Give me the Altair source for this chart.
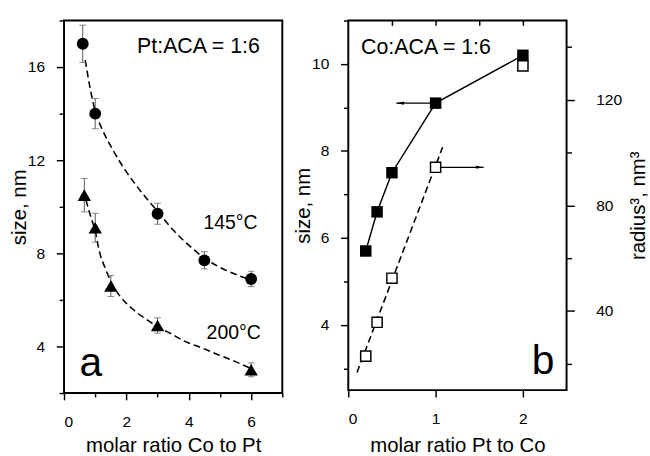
import altair as alt
import pandas as pd

FONT = "Liberation Sans"

# ---------------- Panel a data ----------------
co_pt_145 = [0.6, 1.0, 3.0, 4.5, 6.0]
size_145 = [17.0, 14.0, 9.7, 7.7, 6.9]
err_145 = [0.8, 0.65, 0.45, 0.37, 0.33]

co_pt_200 = [0.65, 1.0, 1.5, 3.0, 6.0]
size_200 = [10.5, 9.1, 6.6, 4.9, 3.0]
err_200 = [0.72, 0.62, 0.45, 0.33, 0.3]

fit145_x = [0.68, 0.85, 1.0, 1.2, 1.5, 2.0, 2.5, 3.0, 3.5, 4.0, 4.5, 5.0, 5.5, 6.0]
fit145_y = [16.3, 15.0, 14.1, 13.4, 12.6, 11.5, 10.6, 9.8, 9.0, 8.35, 7.8, 7.4, 7.1, 6.85]

fit200_x = [0.7, 0.85, 1.0, 1.13, 1.34, 1.5, 1.8, 2.18, 2.6, 3.0, 3.5, 3.84, 4.4, 4.88, 5.5, 6.0]
fit200_y = [10.3, 9.6, 8.95, 8.1, 7.3, 6.8, 6.15, 5.63, 5.2, 4.85, 4.5, 4.24, 3.95, 3.68, 3.35, 3.05]

a_labels = ["145°C", "200°C"]
a_label_x = [5.34, 5.44]
a_label_y = [9.3, 4.58]
a_ratio_text = ["Pt:ACA = 1:6"]
a_ratio_x = [4.31]
a_ratio_y = [16.9]

# ---------------- Panel b data ----------------
pt_co = [0.2, 0.33, 0.5, 1.0, 2.0]
size_co = [5.7, 6.6, 7.5, 9.1, 10.2]
radius3 = [22.9, 35.7, 52.4, 94.4, 132.8]

fit_r3_x = [0.1, 1.08]
fit_r3_y = [16.7, 102.0]

arrow_left_x = [0.55, 1.0]
arrow_left_y = [9.1, 9.1]
arrow_right_x = [1.0, 1.55]
arrow_right_y = [94.4, 94.4]

# ---------------- axes helpers ----------------
def tick_cond(test, major, minor):
    return {"condition": {"test": test, "value": major}, "value": minor}

def xa(field):
    return alt.X(field, type="quantitative", title="molar ratio Co to Pt",
                 scale=alt.Scale(domain=[0, 7], nice=False, zero=False),
                 axis=alt.Axis(values=[0, 1, 2, 3, 4, 5, 6, 7], format="d",
                               labelExpr="datum.value % 2 == 0 ? datum.label : ''",
                               tickSize=tick_cond("datum.value % 2 == 0", 7, 4),
                               labelPadding=14.6, titlePadding=6))

def ya(field):
    return alt.Y(field, type="quantitative", title="size, nm",
                 scale=alt.Scale(domain=[2, 18], nice=False, zero=False),
                 axis=alt.Axis(values=[2, 4, 6, 8, 10, 12, 14, 16, 18], format="d",
                               labelExpr="datum.value % 4 == 0 ? datum.label : ''",
                               tickSize=tick_cond("datum.value % 4 == 0", 8, 5),
                               labelPadding=12, titlePadding=2, titleBaseline="alphabetic"))

def xb_bottom(field):
    return alt.X(field, type="quantitative", title="molar ratio Pt to Co",
                 scale=alt.Scale(domain=[0, 2.5], nice=False, zero=False),
                 axis=alt.Axis(values=[0, 0.5, 1, 1.5, 2, 2.5], format="d",
                               labelExpr="datum.value % 1 == 0 ? datum.label : ''",
                               tickSize=tick_cond("datum.value % 1 == 0", 7, 4),
                               labelPadding=14.6, titlePadding=9))

def xb_top(field):
    return alt.X(field, type="quantitative", title=None,
                 scale=alt.Scale(domain=[0, 2.5], nice=False, zero=False),
                 axis=alt.Axis(orient="top", values=[0.5, 1, 1.5, 2], labels=False,
                               tickSize=5, offset=-5, domain=False))

def yb_left(field):
    return alt.Y(field, type="quantitative", title="size, nm",
                 scale=alt.Scale(domain=[2.5, 11], nice=False, zero=False),
                 axis=alt.Axis(values=[3, 4, 5, 6, 7, 8, 9, 10, 11], format="d",
                               labelExpr="datum.value % 2 == 0 ? datum.label : ''",
                               tickSize=tick_cond("datum.value % 2 == 0", 8, 5),
                               labelPadding=12, titlePadding=2, titleBaseline="alphabetic"))

def yb_right(field):
    return alt.Y(field, type="quantitative", title="radius³, nm³",
                 scale=alt.Scale(domain=[10, 150], nice=False, zero=False),
                 axis=alt.Axis(orient="right", values=[20, 40, 60, 80, 100, 120, 140], format="d",
                               labelExpr="datum.value % 40 == 0 ? datum.label : ''",
                               tickSize=tick_cond("datum.value % 40 == 0", 8, 5),
                               labelPadding=22, titlePadding=7,
                               titleAngle=270, titleBaseline="top"))

# ---------------- Panel a ----------------
df145 = pd.DataFrame({"x": co_pt_145, "y": size_145, "e": err_145})
df145["lo"] = df145["y"] - df145["e"]
df145["hi"] = df145["y"] + df145["e"]
df200 = pd.DataFrame({"x": co_pt_200, "y": size_200, "e": err_200})
df200["lo"] = df200["y"] - df200["e"]
df200["hi"] = df200["y"] + df200["e"]
dfit145 = pd.DataFrame({"x": fit145_x, "y": fit145_y})
dfit200 = pd.DataFrame({"x": fit200_x, "y": fit200_y})
dlab_a = pd.DataFrame({"x": a_label_x, "y": a_label_y, "t": a_labels})
dratio_a = pd.DataFrame({"x": a_ratio_x, "y": a_ratio_y, "t": a_ratio_text})
dletter_a = pd.DataFrame({"x": [0.5], "y": [2.75], "t": ["a"]})

dash = [7, 4]
fit145_line = alt.Chart(dfit145).mark_line(color="black", strokeDash=dash, strokeWidth=1.6,
                                           interpolate="monotone").encode(x=xa("x"), y=ya("y"))
fit200_line = alt.Chart(dfit200).mark_line(color="black", strokeDash=dash, strokeWidth=1.6,
                                           interpolate="monotone").encode(x=xa("x"), y=ya("y"))

def errbars(df):
    base = alt.Chart(df)
    r = base.mark_rule(color="#555555", strokeWidth=1).encode(x=xa("x"), y=ya("lo"), y2="hi")
    c1 = base.mark_tick(color="#555555", orient="horizontal", size=7, thickness=1).encode(x=xa("x"), y=ya("hi"))
    c2 = base.mark_tick(color="#555555", orient="horizontal", size=7, thickness=1).encode(x=xa("x"), y=ya("lo"))
    return [r, c1, c2]

circles = alt.Chart(df145).mark_point(shape="circle", filled=True, color="black", size=150,
                                      opacity=1).encode(x=xa("x"), y=ya("y"))
triangles = alt.Chart(df200).mark_point(shape="triangle-up", filled=True, color="black", size=190,
                                        opacity=1).encode(x=xa("x"), y=ya("y"))
labels_a = alt.Chart(dlab_a).mark_text(font=FONT, fontSize=20, color="black", align="center",
                                       baseline="middle").encode(x=xa("x"), y=ya("y"), text="t:N")
ratio_a = alt.Chart(dratio_a).mark_text(font=FONT, fontSize=22, color="black", align="center",
                                        baseline="middle").encode(x=xa("x"), y=ya("y"), text="t:N")
letter_a = alt.Chart(dletter_a).mark_text(font=FONT, fontSize=42, color="black", align="left",
                                          baseline="alphabetic").encode(x=xa("x"), y=ya("y"), text="t:N")

panel_a = alt.layer(fit145_line, fit200_line, *errbars(df145), *errbars(df200),
                    circles, triangles, labels_a, ratio_a, letter_a).properties(width=225, height=384)

# ---------------- Panel b ----------------
dsz = pd.DataFrame({"x": pt_co, "y": size_co})
dr3 = pd.DataFrame({"x": pt_co, "y": radius3})
dfit_r3 = pd.DataFrame({"x": fit_r3_x, "y": fit_r3_y})
darr_l = pd.DataFrame({"x": arrow_left_x, "y": arrow_left_y})
darr_r = pd.DataFrame({"x": arrow_right_x, "y": arrow_right_y})
dlab_b = pd.DataFrame({"x": [0.89], "y": [10.39], "t": ["Co:ACA = 1:6"]})
dletter_b = pd.DataFrame({"x": [2.23], "y": [2.87], "t": ["b"]})

size_line = alt.Chart(dsz).mark_line(color="black", strokeWidth=1.5).encode(x=xb_bottom("x"), y=yb_left("y"))
arrow_l_line = alt.Chart(darr_l).mark_line(color="black", strokeWidth=1.2).encode(x=xb_bottom("x"), y=yb_left("y"))
arrow_l_head = alt.Chart(darr_l.iloc[[0]]).mark_point(shape="M0,0L2,-0.4L2,0.4Z", filled=True, color="black",
                                                      size=64, opacity=1).encode(x=xb_bottom("x"), y=yb_left("y"))
size_pts = alt.Chart(dsz).mark_point(shape="square", filled=True, color="black", size=140,
                                     opacity=1).encode(x=xb_bottom("x"), y=yb_left("y"))
labels_b = alt.Chart(dlab_b).mark_text(font=FONT, fontSize=22, color="black", align="center",
                                       baseline="middle").encode(x=xb_bottom("x"), y=yb_left("y"), text="t:N")
letter_b = alt.Chart(dletter_b).mark_text(font=FONT, fontSize=42, color="black", align="center",
                                          baseline="alphabetic").encode(x=xb_bottom("x"), y=yb_left("y"), text="t:N")

left_group = alt.layer(size_line, arrow_l_line, arrow_l_head, size_pts, labels_b, letter_b)

r3_fit = alt.Chart(dfit_r3).mark_line(color="black", strokeDash=dash, strokeWidth=1.6).encode(x=xb_top("x"), y=yb_right("y"))
arrow_r_line = alt.Chart(darr_r).mark_line(color="black", strokeWidth=1.2).encode(x=xb_top("x"), y=yb_right("y"))
arrow_r_head = alt.Chart(darr_r.iloc[[1]]).mark_point(shape="M0,0L-2,-0.4L-2,0.4Z", filled=True, color="black",
                                                      size=64, opacity=1).encode(x=xb_top("x"), y=yb_right("y"))
r3_pts = alt.Chart(dr3).mark_point(shape="square", filled=True, fill="white", stroke="black", strokeWidth=1.5,
                                   size=110, opacity=1).encode(x=xb_top("x"), y=yb_right("y"))

right_group = alt.layer(r3_fit, arrow_r_line, arrow_r_head, r3_pts)

panel_b = alt.layer(left_group, right_group).resolve_scale(y="independent").resolve_axis(
    x="independent", y="independent").properties(width=225, height=381)

chart = alt.hconcat(panel_a, panel_b, spacing=68, bounds="flush").properties(
    padding={"left": 8, "top": 12, "right": 0, "bottom": 0}
).configure_view(stroke="black", strokeWidth=2).configure_axis(
    labelFont=FONT, titleFont=FONT, labelFontSize=16, titleFontSize=21,
    labelColor="black", titleColor="black", titleFontWeight="normal",
    domain=False, grid=False, tickColor="black", tickWidth=1.5
)

chart.save("out.html", embed_options={"renderer": "svg", "actions": False})
